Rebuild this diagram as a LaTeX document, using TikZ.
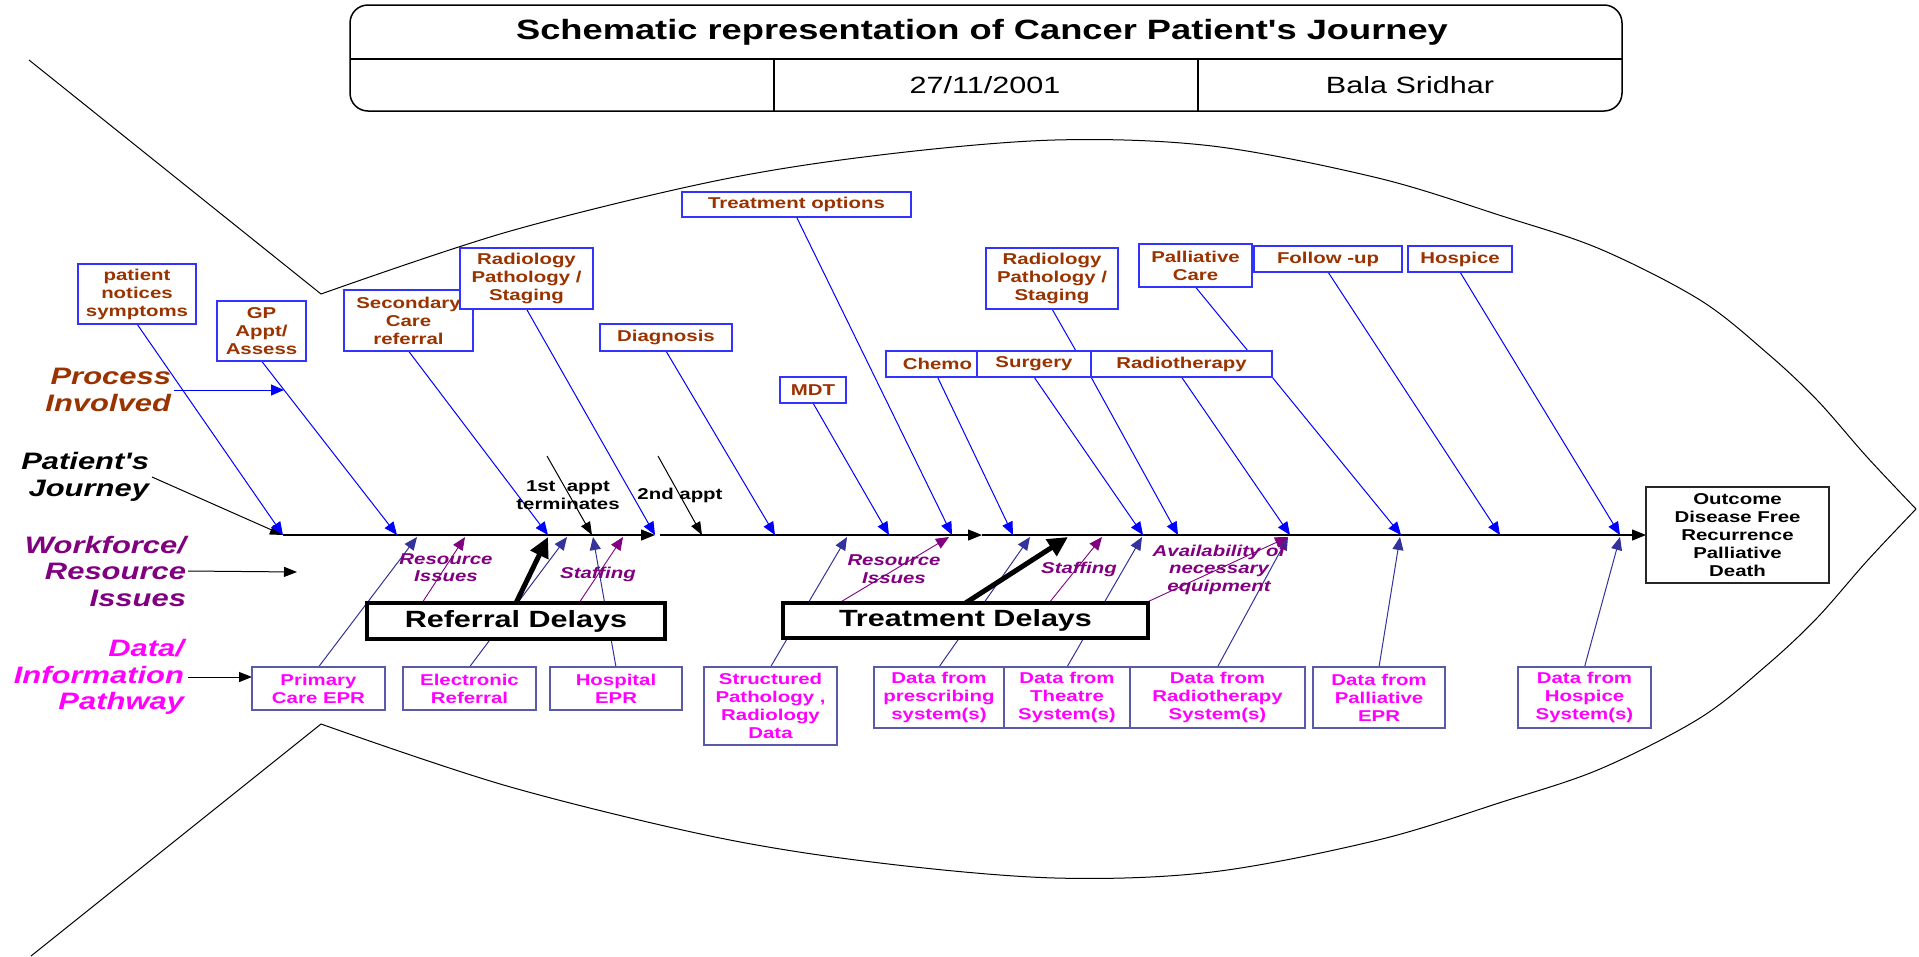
\documentclass[tikz,border=0pt]{standalone}
\usepackage{fontspec}
\setmainfont{Liberation Sans}[FakeStretch=1.3, Ligatures=TeXOff]
\usetikzlibrary{arrows.meta}
\pgfdeclarelayer{back}
\pgfdeclarelayer{lines}
\pgfsetlayers{back,lines,main}

\definecolor{procbrown}{HTML}{993300}
\definecolor{procblue}{HTML}{0000FF}
\definecolor{boxblue}{HTML}{3333FF}
\definecolor{datanavy}{HTML}{333399}
\definecolor{databorder}{HTML}{5A5AAA}
\definecolor{wfpurple}{HTML}{800080}
\definecolor{datamag}{HTML}{FF00FF}

\tikzset{
  every node/.style={inner sep=0pt, outer sep=0pt},
  lbl/.style={font=\fontsize{15.7}{18}\selectfont\bfseries, align=center},
  pbox/.style={lbl, draw=boxblue, line width=1.6pt, fill=white, text=procbrown},
  dbox/.style={lbl, draw=databorder, line width=1.4pt, fill=white, text=datamag},
  delaybox/.style={draw=black, line width=4.5pt, fill=white,
    font=\fontsize{23.5}{26}\selectfont\bfseries},
  sidelbl/.style={font=\fontsize{23.8}{26.5}\selectfont\bfseries\itshape,
    align=right, anchor=east},
  issue/.style={font=\fontsize{15.7}{17.5}\selectfont\bfseries\itshape,
    align=center, text=wfpurple},
  barhead/.style={-{Triangle[length=13pt,width=11pt]}},
  procarrow/.style={procblue, line width=1pt, barhead},
  proclink/.style={procblue, line width=1pt},
  dataarrow/.style={datanavy, line width=1pt, barhead},
  issuearrow/.style={wfpurple, line width=0.9pt, barhead},
  blackarrow/.style={black, line width=1pt, -{Triangle[length=13pt,width=10pt]}},
  spinearrow/.style={black, line width=1.2pt, -{Triangle[length=14pt,width=11pt]}},
  delayarrow/.style={black, line width=5pt, -{Triangle[length=20pt,width=19pt]}},
  fishline/.style={black, line width=1pt},
}

\begin{document}
\begin{tikzpicture}[x=1pt,y=-1pt]
\useasboundingbox (0,0) rectangle (1919,956);
\begin{pgfonlayer}{back}
  \fill[white] (0,0) rectangle (1919,956);
\end{pgfonlayer}

% ---------- title block ----------
\draw[line width=1.5pt, rounded corners=18pt] (350,5) rectangle (1622,111);
\draw[line width=1.5pt] (350,59) -- (1622,59);
\draw[line width=1.5pt] (774,59) -- (774,111);
\draw[line width=1.5pt] (1198,59) -- (1198,111);
\node[font=\fontsize{27.9}{30}\selectfont\bfseries] (ttl) at (982,32)
  {Schematic representation of Cancer Patient's Journey};
\node[font=\fontsize{23.5}{26}\selectfont] (date) at (985,85) {27/11/2001};
\node[font=\fontsize{23.5}{26}\selectfont] (auth) at (1410,85) {Bala Sridhar};

% ---------- side headings ----------
\node[sidelbl, text=procbrown] (lproc) at (171,390) {Process\\Involved};
\node[sidelbl, text=black] (ljour) at (149,477) {Patient's\\Journey};
\node[sidelbl, text=wfpurple] (lwork) at (186,571) {Workforce/\\Resource\\Issues};
\node[sidelbl, text=datamag] (ldata) at (184,677) {Data/\\Information\\Pathway};

% ---------- process steps ----------
\node[pbox, minimum width=118, minimum height=60] (symp) at (137,294) {patient\\notices\\symptoms};
\node[pbox, minimum width=89, minimum height=60] (gp) at (261.5,331) {GP\\Appt/\\Assess};
\node[pbox, minimum width=129, minimum height=61] (sec) at (408.5,320.5) {Secondary\\Care\\referral};
\node[pbox, minimum width=133, minimum height=61] (rad1) at (526.5,278.5) {Radiology\\Pathology /\\Staging};
\node[pbox, minimum width=132, minimum height=27] (diag) at (666,337.5) {Diagnosis};
\node[pbox, minimum width=229, minimum height=25] (topt) at (796.5,204.5) {Treatment options};
\node[pbox, minimum width=66, minimum height=26] (mdt) at (813,390) {MDT};
\node[pbox, minimum width=103, minimum height=26] (chemo) at (937.5,364) {Chemo};
\node[pbox, minimum width=114, minimum height=26] (surg) at (1034,364) {Surgery};
\node[pbox, minimum width=181, minimum height=26] (radt) at (1181.5,364) {Radiotherapy};
\node[pbox, minimum width=132, minimum height=61] (rad2) at (1052,278.5) {Radiology\\Pathology /\\Staging};
\node[pbox, minimum width=113, minimum height=43] (pall) at (1195.5,265.5) {Palliative\\Care};
\node[pbox, minimum width=148, minimum height=26] (fup) at (1328,259) {Follow -up};
\node[pbox, minimum width=104, minimum height=26] (hosp) at (1460,259) {Hospice};

% ---------- information systems ----------
\node[dbox, minimum width=133, minimum height=43] (pepr) at (318.5,688.5) {Primary\\Care EPR};
\node[dbox, minimum width=133, minimum height=43] (eref) at (469.5,688.5) {Electronic\\Referral};
\node[dbox, minimum width=132, minimum height=43] (hepr) at (616,688.5) {Hospital\\EPR};
\node[dbox, minimum width=133, minimum height=78] (spath) at (770.5,706) {Structured\\Pathology ,\\Radiology\\Data};
\node[dbox, minimum width=130, minimum height=61] (presc) at (939,697.5) {Data from\\prescribing\\system(s)};
\node[dbox, minimum width=126, minimum height=61] (theat) at (1067,697.5) {Data from\\Theatre\\System(s)};
\node[dbox, minimum width=175, minimum height=61] (rsys) at (1217.5,697.5) {Data from\\Radiotherapy\\System(s)};
\node[dbox, minimum width=132, minimum height=61] (palepr) at (1379,697.5) {Data from\\Palliative\\EPR};
\node[dbox, minimum width=133, minimum height=61] (hsys) at (1584.5,697.5) {Data from\\Hospice\\System(s)};

% ---------- delays ----------
\node[delaybox, minimum width=298, minimum height=36] (refd) at (516,621) {Referral Delays};
\node[delaybox, minimum width=365, minimum height=35] (trtd) at (965.5,620.5) {Treatment Delays};

% ---------- outcome ----------
\node[lbl, draw=black!85, line width=1.5pt, fill=white, minimum width=183, minimum height=96]
  (outc) at (1737.5,535) {Outcome\\Disease Free\\Recurrence\\Palliative\\Death};

% ---------- annotations ----------
\node[lbl] (appt1) at (568,495) {1st~~appt\\terminates};
\node[lbl] (appt2) at (680,495) {2nd appt};
\node[issue] (ri1) at (446,567.5) {Resource\\Issues};
\node[issue] (st1) at (598,574) {Staffing};
\node[issue] (ri2) at (894,569) {Resource\\Issues};
\node[issue] (st2) at (1079,569) {Staffing};
\node[issue] (avail) at (1219,569.5) {Availability of\\necessary\\equipment};

% ---------- spine points ----------
\coordinate (sp0) at (283,535);
\coordinate (sp1) at (655,535);
\coordinate (sp2) at (660,535);
\coordinate (sp3) at (982,535);
% process arrow ends (upper side)
\coordinate (u2) at (397,535);
\coordinate (u3) at (548,535);
\coordinate (u5) at (775,535);
\coordinate (u6) at (889,535);
\coordinate (u7) at (952,535);
\coordinate (u8) at (1013,535);
\coordinate (u9) at (1143,535);
\coordinate (u10) at (1178,535);
\coordinate (u11) at (1290,535);
\coordinate (u12) at (1401,535);
\coordinate (u13) at (1500,535);
\coordinate (u14) at (1620,535);
\coordinate (surgtop) at (1076,351);
\coordinate (radttop) at (1248,351);
% arrow ends (lower side)
\coordinate (d1) at (417,537);
\coordinate (d2) at (567,537);
\coordinate (d3) at (593,537);
\coordinate (d4) at (847,537);
\coordinate (d5) at (1030,537);
\coordinate (d6) at (1142,537);
\coordinate (d7) at (1288,537);
\coordinate (d8) at (1400,537);
\coordinate (d9) at (1620,537);
\coordinate (w1) at (465,537);
\coordinate (w2) at (623,537);
\coordinate (w3) at (949,537);
\coordinate (w4) at (1102,537);
\coordinate (w5) at (1288,537);
\coordinate (k1) at (548,537);
\coordinate (k2) at (1068,537);
% free ends of the side and appointment arrows
\coordinate (procend) at (284,390);
\coordinate (wfend) at (297,572);
\coordinate (a1start) at (547,456);
\coordinate (a1end) at (592,535);
\coordinate (a2start) at (658,456);
\coordinate (a2end) at (702,535);

\begin{pgfonlayer}{lines}
  % fish outline
  \draw[fishline] (29,60) -- (321,294);
  \draw[fishline] (31,956) -- (321,724);
  \draw[fishline] plot[smooth, tension=0.55] coordinates {(321,294) (507,232) (715,181) (880,155)
    (1055,140) (1212,146) (1378,178) (1502,216) (1600,249) (1700,300) (1767,353) (1817,400)
    (1867,457) (1916,509)};
  \draw[fishline] plot[smooth, tension=0.55] coordinates {(321,724) (507,786) (715,837) (880,863)
    (1055,878) (1212,872) (1378,840) (1502,802) (1600,769) (1700,718) (1767,665) (1817,618)
    (1867,561) (1916,509)};

  % spine
  \draw[spinearrow] (sp0) -- (sp1);
  \draw[spinearrow] (sp2) -- (sp3);
  \draw[spinearrow] (sp3) -- (outc.west);

  % side heading arrows
  \draw[procarrow] ([xshift=3pt]lproc.east) -- (procend);
  \draw[blackarrow] ([xshift=3pt]ljour.east) -- (sp0);
  \draw[blackarrow] ([xshift=2pt]lwork.east) -- (wfend);
  \draw[blackarrow] ([xshift=4pt]ldata.east) -- (ldata.east -| pepr.west);

  % appointments
  \draw[blackarrow] (a1start) -- (a1end);
  \draw[blackarrow] (a2start) -- (a2end);

  % process steps into the journey
  \draw[procarrow] (symp.south) -- (sp0);
  \draw[procarrow] (gp.south) -- (u2);
  \draw[procarrow] (sec.south) -- (u3);
  \draw[procarrow] (rad1.south) -- (sp1);
  \draw[procarrow] (diag.south) -- (u5);
  \draw[procarrow] (mdt.south) -- (u6);
  \draw[procarrow] (topt.south) -- (u7);
  \draw[procarrow] (chemo.south) -- (u8);
  \draw[procarrow] (surg.south) -- (u9);
  \draw[procarrow] (surg.south east) -- (u10);
  \draw[procarrow] (radt.south) -- (u11);
  \draw[procarrow] (radt.south east) -- (u12);
  \draw[procarrow] (fup.south) -- (u13);
  \draw[procarrow] (hosp.south) -- (u14);
  \draw[proclink] (rad2.south) -- (surgtop);
  \draw[proclink] (pall.south) -- (radttop);

  % information systems into the journey
  \draw[dataarrow] (pepr.north) -- (d1);
  \draw[dataarrow] (eref.north) -- (d2);
  \draw[dataarrow] (hepr.north) -- (d3);
  \draw[dataarrow] (spath.north) -- (d4);
  \draw[dataarrow] (presc.north) -- (d5);
  \draw[dataarrow] (theat.north) -- (d6);
  \draw[dataarrow] (rsys.north) -- (d7);
  \draw[dataarrow] (palepr.north) -- (d8);
  \draw[dataarrow] (hsys.north) -- (d9);

  % workforce issues
  \draw[issuearrow] ([xshift=55pt]refd.north west) -- (w1);
  \draw[issuearrow] ([xshift=212pt]refd.north west) -- (w2);
  \draw[issuearrow] ([xshift=56pt]trtd.north west) -- (w3);
  \draw[issuearrow] ([xshift=266pt]trtd.north west) -- (w4);
  \draw[issuearrow] ([xshift=-3pt]trtd.north east) -- (w5);

  % delays
  \draw[delayarrow] (refd.north) -- (k1);
  \draw[delayarrow] (trtd.north) -- (k2);
\end{pgfonlayer}
\end{tikzpicture}
\end{document}
